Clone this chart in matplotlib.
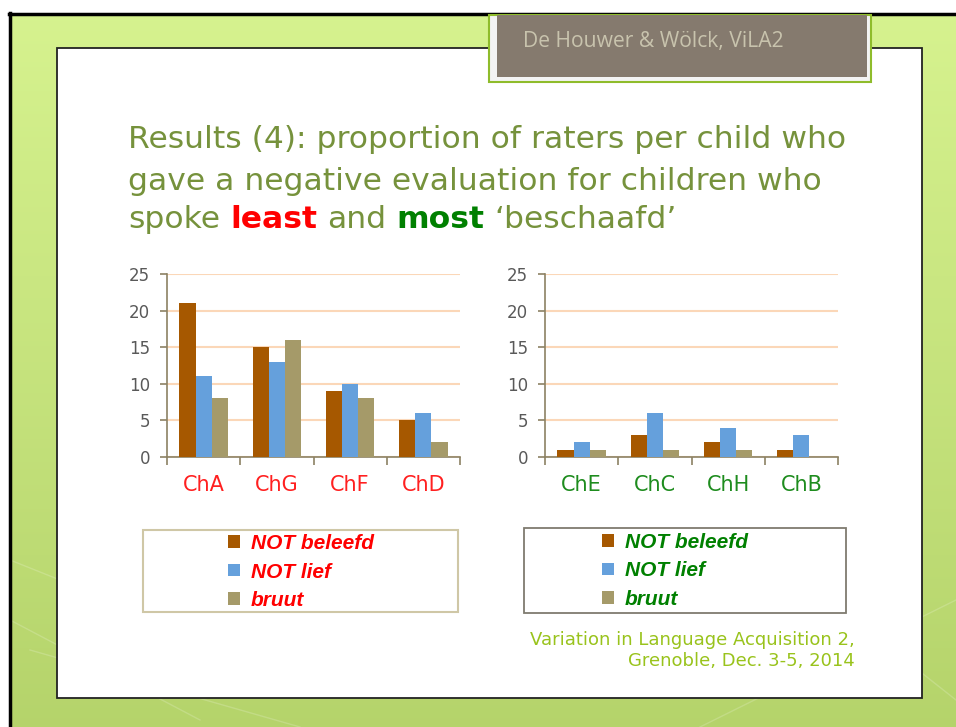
import numpy as np
import matplotlib
matplotlib.use("Agg")
import matplotlib.pyplot as plt
from matplotlib.patches import Rectangle, Patch

# ---------------- data ----------------
cats_least = ["ChA", "ChG", "ChF", "ChD"]
cats_most = ["ChE", "ChC", "ChH", "ChB"]
series_names = ["NOT beleefd", "NOT lief", "bruut"]
least_not_beleefd = [21, 15, 9, 5]
least_not_lief = [11, 13, 10, 6]
least_bruut = [8, 16, 8, 2]
most_not_beleefd = [1, 3, 2, 1]
most_not_lief = [2, 6, 4, 3]
most_bruut = [1, 1, 1, 0]
yticks = [0, 5, 10, 15, 20, 25]

colors = ["#a65800", "#65a0dc", "#a59a69"]

W, H = 956, 727
fig = plt.figure(figsize=(W / 100, H / 100), dpi=100)

# ---------------- background (pixel coordinates) ----------------
bg = fig.add_axes([0, 0, 1, 1])
bg.set_xlim(0, W)
bg.set_ylim(H, 0)
bg.axis("off")

grad = np.linspace(0, 1, 256)[:, None]
top = np.array([0.84, 0.95, 0.56])
bot = np.array([0.71, 0.83, 0.42])
img = top[None, None, :] * (1 - grad[..., None]) + bot[None, None, :] * grad[..., None]
img = np.repeat(img, 2, axis=1)
bg.imshow(img, extent=[10, W, H, 14], aspect="auto", zorder=0)
# faint decorative lines
for (x0, y0, x1, y1) in [(10, 620, 200, 720), (30, 650, 300, 727), (700, 727, 956, 600),
                          (10, 560, 60, 580), (880, 640, 956, 700)]:
    bg.plot([x0, x1], [y0, y1], color="white", alpha=0.18, lw=1, zorder=1)

bg.add_patch(Rectangle((0, 0), W, 13, facecolor="white", edgecolor="none", zorder=2))
bg.add_patch(Rectangle((0, 0), 9, H, facecolor="white", edgecolor="none", zorder=2))
bg.plot([9, W], [14, 14], color="black", lw=2.5, zorder=3)
bg.plot([10.5, 10.5], [13, H], color="black", lw=2.5, zorder=3)

# white slide panel
bg.add_patch(Rectangle((57, 48), 865, 650, facecolor="white", edgecolor="#222222", lw=1.3, zorder=2))

# header box
bg.add_patch(Rectangle((489, 15), 382, 67, facecolor="#f3f3f3", edgecolor="#8fbc2b", lw=1.5, zorder=4))
bg.add_patch(Rectangle((497, 15), 370, 62, facecolor="#857a6e", edgecolor="none", zorder=5))
bg.text(523, 47, "De Houwer & Wölck, ViLA2", fontsize=15.2, color="#c8c3ad",
        family="Open Sans", va="baseline", ha="left", zorder=6)

# ---------------- title ----------------
title_color = "#76923c"
tfs = 22.6
bg.text(128, 148, "Results (4): proportion of raters per child who", fontsize=tfs,
        color=title_color, va="baseline", zorder=6)
bg.text(128, 190, "gave a negative evaluation for children who", fontsize=tfs,
        color=title_color, va="baseline", zorder=6)

renderer = fig.canvas.get_renderer()


def width_of(s, **kw):
    t = bg.text(0, 0, s, fontsize=tfs, **kw)
    w = t.get_window_extent(renderer).width
    t.remove()
    return w


space_w = width_of("x x") - width_of("xx")
x = 128
pieces = [("spoke", title_color, "normal"), ("least", "#ff0000", "bold"),
          ("and", title_color, "normal"), ("most", "#008000", "bold"),
          ("\u2018beschaafd\u2019", title_color, "normal")]
for s, c, wt in pieces:
    bg.text(x, 228, s, fontsize=tfs, color=c, fontweight=wt, va="baseline", zorder=6)
    x += width_of(s, fontweight=wt) + space_w

# ---------------- charts ----------------
def make_chart(left_px, cats, vals, label_color):
    ax = fig.add_axes([left_px / W, 1 - 457 / H, 293 / W, 183 / H])
    n = len(cats)
    xs = np.arange(n)
    bw = 0.22
    for i, v in enumerate(vals):
        ax.bar(xs + (i - 1) * bw, v, width=bw, color=colors[i], zorder=3)
    ax.set_xlim(-0.5, n - 0.5)
    ax.set_ylim(0, 25)
    ax.set_yticks(yticks)
    ax.set_xticks(xs)
    ax.set_xticklabels(cats, fontsize=15, color=label_color)
    ax.set_xticks(np.arange(-0.5, n, 1.0), minor=True)
    ax.tick_params(axis="x", which="major", length=0, pad=13)
    ax.tick_params(axis="x", which="minor", length=6, direction="out", color="#8c8264", width=1.2)
    ax.tick_params(axis="y", length=5, color="#8c8264", width=1.2, labelsize=12,
                   labelcolor="#595959", pad=7)
    for s in ["top", "right"]:
        ax.spines[s].set_visible(False)
    for s in ["left", "bottom"]:
        ax.spines[s].set_color("#8c8264")
        ax.spines[s].set_linewidth(1.2)
    ax.yaxis.grid(True, color="#fbd7b8", lw=1.5, zorder=0)
    ax.set_axisbelow(True)
    ax.set_facecolor("white")
    return ax


make_chart(167, cats_least, [least_not_beleefd, least_not_lief, least_bruut], "#ff2020")
make_chart(545, cats_most, [most_not_beleefd, most_not_lief, most_bruut], "#1e8c1e")

# ---------------- legends ----------------
bg.add_patch(Rectangle((143, 530), 315, 82, facecolor="white", edgecolor="#cfc7a6", lw=1.5, zorder=4))
bg.add_patch(Rectangle((524, 528), 322, 85, facecolor="white", edgecolor="#7f7b70", lw=1.3, zorder=4))

handles = [Patch(facecolor=c, edgecolor="none") for c in colors]
for cx, cy, tc in [(301, 572, "#ff0000"), (675, 571, "#008000")]:
    leg = fig.legend(handles, series_names, loc="center",
                     bbox_to_anchor=(cx / W, 1 - cy / H), frameon=False,
                     prop={"family": "Liberation Sans", "weight": "bold", "style": "italic", "size": 15},
                     labelcolor=tc, handlelength=0.55, handleheight=0.55,
                     handletextpad=0.55, labelspacing=0.45, borderpad=0)
    leg.set_zorder(10)

# ---------------- footer ----------------
fc = "#99c31c"
bg.text(855, 645, "Variation in Language Acquisition 2,", fontsize=13, color=fc,
        ha="right", va="baseline", zorder=6)
bg.text(855, 666, "Grenoble, Dec. 3-5, 2014", fontsize=13, color=fc,
        ha="right", va="baseline", zorder=6)

fig.savefig("out.png", dpi=100)
